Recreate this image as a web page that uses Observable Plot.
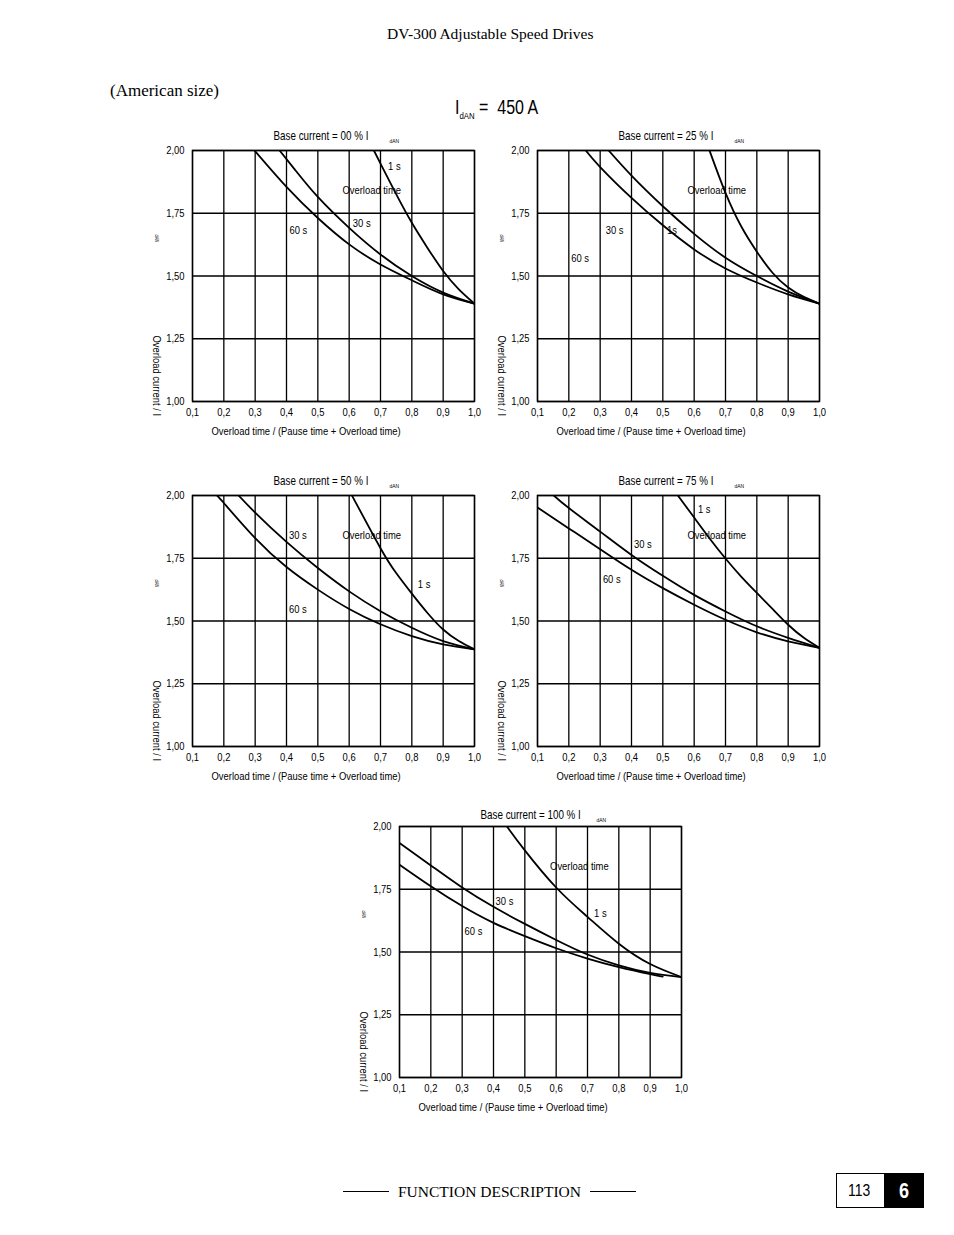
<!DOCTYPE html>
<html>
<head>
<meta charset="utf-8">
<script src="https://cdn.jsdelivr.net/npm/d3@7"></script>
<script src="https://cdn.jsdelivr.net/npm/@observablehq/plot@0.6"></script>
<style>
  body { margin: 0; background: #fff; }
  #page { position: relative; width: 954px; height: 1235px; overflow: hidden; color: #000;
          font-family: "Liberation Serif", "Times New Roman", serif; }
  .abs { position: absolute; white-space: nowrap; line-height: 1; }
  .narrow { font-family: "Liberation Sans", Arial, sans-serif; display: inline-block;
            transform: scaleX(0.82); transform-origin: left center; }
  .chart { position: absolute; }
  .chart svg { overflow: visible; display: block; }
  .rule { position: absolute; height: 0; border-top: 1px solid #000; }
</style>
</head>
<body>
<div id="page">
  <div class="abs" style="left:387px;top:26px;font-size:15.5px;">DV-300 Adjustable Speed Drives</div>
  <div class="abs" style="left:110px;top:82px;font-size:17px;">(American size)</div>
  <div class="abs" style="left:455px;top:98px;"><span class="narrow" style="font-size:19.5px;">I<span style="font-size:9.5px;position:relative;top:5px;">dAN</span>&nbsp;=&nbsp; 450 A</span></div>

  <div id="c00" class="chart" style="left:142px;top:120px;"></div>
  <div id="c25" class="chart" style="left:487px;top:120px;"></div>
  <div id="c50" class="chart" style="left:142px;top:465px;"></div>
  <div id="c75" class="chart" style="left:487px;top:465px;"></div>
  <div id="c100" class="chart" style="left:349px;top:796px;"></div>

  <div class="rule" style="left:343px;top:1191px;width:46px;"></div>
  <div class="abs" style="left:398px;top:1184px;font-size:15.5px;">FUNCTION DESCRIPTION</div>
  <div class="rule" style="left:590px;top:1191px;width:46px;"></div>
  <div class="abs" style="left:836px;top:1173px;width:47px;height:33px;border:1px solid #000;line-height:33px;"><span class="narrow" style="font-size:17px;margin-left:11px;">113</span></div>
  <div class="abs" style="left:884px;top:1173px;width:40px;height:35px;background:#000;color:#fff;line-height:35px;"><span class="narrow" style="font-size:22px;font-weight:bold;margin-left:15px;">6</span></div>
</div>
<script>
// ---- axis ticks and texts ----
const xTicks = [0.1, 0.2, 0.3, 0.4, 0.5, 0.6, 0.7, 0.8, 0.9, 1.0];
const yTicks = [1.00, 1.25, 1.50, 1.75, 2.00];
const baseCurrents = ["00", "25", "50", "75", "100"];
const xLabel = "Overload time / (Pause time + Overload time)";
const yLabel = "Overload current / I";
const subLabel = "dAN";

// ---- Base current = 00 % ----
const b00_60s = [[0.298, 2.0], [0.4, 1.855], [0.5, 1.731], [0.6, 1.626], [0.7, 1.546], [0.8, 1.483], [0.9, 1.427], [1.0, 1.39]];
const b00_30s = [[0.378, 2.0], [0.428, 1.922], [0.5, 1.815], [0.6, 1.692], [0.7, 1.586], [0.8, 1.50], [0.9, 1.434], [1.0, 1.39]];
const b00_1s  = [[0.679, 2.0], [0.7, 1.948], [0.75, 1.826], [0.8, 1.712], [0.85, 1.612], [0.9, 1.52], [0.95, 1.447], [1.0, 1.39]];
const b00_labels = [
  {text: "1 s", x: 0.744, y: 1.936}, {text: "Overload time", x: 0.672, y: 1.843},
  {text: "60 s", x: 0.438, y: 1.681}, {text: "30 s", x: 0.640, y: 1.708}];

// ---- Base current = 25 % ----
const b25_60s = [[0.254, 2.0], [0.3, 1.934], [0.4, 1.811], [0.5, 1.702], [0.6, 1.606], [0.7, 1.53], [0.8, 1.474], [0.9, 1.427], [1.0, 1.39]];
const b25_30s = [[0.327, 2.0], [0.4, 1.90], [0.5, 1.778], [0.6, 1.668], [0.7, 1.573], [0.8, 1.50], [0.9, 1.438], [1.0, 1.39]];
const b25_1s  = [[0.649, 2.0], [0.7, 1.831], [0.75, 1.698], [0.8, 1.597], [0.85, 1.513], [0.9, 1.454], [0.95, 1.417], [1.0, 1.39]];
const b25_labels = [
  {text: "Overload time", x: 0.672, y: 1.843}, {text: "30 s", x: 0.346, y: 1.681},
  {text: "1s", x: 0.529, y: 1.681}, {text: "60 s", x: 0.236, y: 1.571}];

// ---- Base current = 50 % ----
const b50_60s = [[0.178, 2.0], [0.2, 1.97], [0.3, 1.83], [0.4, 1.715], [0.5, 1.625], [0.6, 1.548], [0.7, 1.487], [0.8, 1.44], [0.9, 1.407], [1.0, 1.387]];
const b50_30s = [[0.247, 2.0], [0.3, 1.932], [0.4, 1.815], [0.5, 1.711], [0.6, 1.618], [0.7, 1.539], [0.8, 1.473], [0.9, 1.42], [1.0, 1.387]];
const b50_1s  = [[0.609, 2.0], [0.7, 1.79], [0.75, 1.691], [0.8, 1.609], [0.85, 1.532], [0.9, 1.466], [0.95, 1.42], [1.0, 1.387]];
const b50_labels = [
  {text: "30 s", x: 0.436, y: 1.843}, {text: "Overload time", x: 0.672, y: 1.843},
  {text: "1 s", x: 0.839, y: 1.645}, {text: "60 s", x: 0.436, y: 1.545}];

// ---- Base current = 75 % ----
const b75_60s = [[0.1, 1.952], [0.2, 1.869], [0.3, 1.786], [0.4, 1.704], [0.5, 1.631], [0.6, 1.565], [0.7, 1.505], [0.8, 1.455], [0.9, 1.419], [1.0, 1.393]];
const b75_30s = [[0.152, 2.0], [0.2, 1.95], [0.3, 1.856], [0.4, 1.763], [0.5, 1.68], [0.6, 1.604], [0.7, 1.538], [0.8, 1.479], [0.9, 1.433], [1.0, 1.393]];
const b75_1s  = [[0.548, 2.0], [0.6, 1.912], [0.65, 1.828], [0.7, 1.749], [0.75, 1.677], [0.8, 1.612], [0.85, 1.548], [0.9, 1.485], [0.95, 1.433], [1.0, 1.393]];
const b75_labels = [
  {text: "1 s", x: 0.632, y: 1.944}, {text: "Overload time", x: 0.672, y: 1.843},
  {text: "30 s", x: 0.436, y: 1.806}, {text: "60 s", x: 0.337, y: 1.668}];

// ---- Base current = 100 % ----
const b100_60s = [[0.1, 1.848], [0.2, 1.762], [0.3, 1.683], [0.4, 1.616], [0.5, 1.563], [0.6, 1.515], [0.7, 1.474], [0.8, 1.44], [0.9, 1.412], [0.94, 1.402]];
const b100_30s = [[0.1, 1.934], [0.2, 1.845], [0.3, 1.757], [0.4, 1.68], [0.5, 1.612], [0.6, 1.548], [0.7, 1.49], [0.8, 1.447], [0.9, 1.417], [1.0, 1.40]];
const b100_1s  = [[0.443, 2.0], [0.5, 1.905], [0.6, 1.757], [0.7, 1.64], [0.8, 1.533], [0.9, 1.452], [1.0, 1.40]];
const b100_labels = [
  {text: "Overload time", x: 0.674, y: 1.841}, {text: "30 s", x: 0.435, y: 1.700},
  {text: "1 s", x: 0.741, y: 1.654}, {text: "60 s", x: 0.336, y: 1.581}];

const FONT = "'Liberation Sans', Arial, sans-serif";
const NARROW = 0.82; // emulate a narrow sans face
const comma = (d, n) => d.toFixed(n).replace(".", ",");

function makeChart(base, series, labels, titleDy) {
  const rows = [];
  for (const [name, pts] of series) for (const [x, y] of pts) rows.push({name, x, y});
  const txt = {fill: "#000", lineAnchor: "middle"};
  return Plot.plot({
    width: 352, height: 326,
    marginLeft: 50, marginRight: 20, marginTop: 30, marginBottom: 45,
    x: {domain: [0.1, 1.0]},
    y: {domain: [1.0, 2.0]},
    style: {fontFamily: FONT, fontSize: "11.5px", color: "#000", background: "transparent", overflow: "visible"},
    marks: [
      Plot.gridX(xTicks, {stroke: "#000", strokeOpacity: 1, strokeWidth: 1.3}),
      Plot.gridY(yTicks, {stroke: "#000", strokeOpacity: 1, strokeWidth: 1.3}),
      Plot.frame({stroke: "#000", strokeWidth: 1.4}),
      Plot.axisX(xTicks, {tickSize: 0, tickPadding: 6, tickFormat: d => comma(d, 1), label: null, fontVariant: "normal"}),
      Plot.axisY(yTicks, {tickSize: 0, tickPadding: 8, tickFormat: d => comma(d, 2), label: null, fontVariant: "normal"}),
      Plot.line(rows, {x: "x", y: "y", z: "name", curve: "natural", stroke: "#000", strokeWidth: 1.8, clip: true}),
      Plot.text(labels, {x: "x", y: "y", text: "text", fill: "#000"}),
      Plot.text([`Base current = ${base} % I`], {...txt, frameAnchor: "top-left", textAnchor: "start", dx: 81, dy: titleDy, fontSize: 12}),
      Plot.text([subLabel], {...txt, frameAnchor: "top-left", textAnchor: "start", dx: 197, dy: titleDy + 5, fontSize: 6}),
      Plot.text([xLabel], {...txt, frameAnchor: "bottom-left", textAnchor: "start", dx: 19, dy: 30}),
      Plot.text([yLabel], {...txt, frameAnchor: "top-left", textAnchor: "start", rotate: 90, dx: -36, dy: 185}),
      Plot.text([subLabel], {...txt, frameAnchor: "top-left", rotate: 90, dx: -36, dy: 84, fontSize: 5})
    ]
  });
}

// compress every text along its own direction around its anchor (narrow face look)
function narrowTexts(svg) {
  svg.querySelectorAll("text").forEach(t => {
    const b = t.getBBox();
    if (!b.width) return;
    const anchor = getComputedStyle(t).textAnchor;
    const ax = anchor === "middle" ? b.x + b.width / 2 : anchor === "end" ? b.x + b.width : b.x;
    const prev = t.getAttribute("transform") || "";
    t.setAttribute("transform", `${prev} translate(${ax},0) scale(${NARROW},1) translate(${-ax},0)`.trim());
  });
}

const defs = [
  ["c00", baseCurrents[0], [["60 s", b00_60s], ["30 s", b00_30s], ["1 s", b00_1s]], b00_labels, -14],
  ["c25", baseCurrents[1], [["60 s", b25_60s], ["30 s", b25_30s], ["1 s", b25_1s]], b25_labels, -14],
  ["c50", baseCurrents[2], [["60 s", b50_60s], ["30 s", b50_30s], ["1 s", b50_1s]], b50_labels, -14],
  ["c75", baseCurrents[3], [["60 s", b75_60s], ["30 s", b75_30s], ["1 s", b75_1s]], b75_labels, -14],
  ["c100", baseCurrents[4], [["60 s", b100_60s], ["30 s", b100_30s], ["1 s", b100_1s]], b100_labels, -11]
];
for (const [id, base, series, labels, titleDy] of defs) {
  const svg = makeChart(base, series, labels, titleDy);
  document.getElementById(id).appendChild(svg);
  narrowTexts(svg);
}
</script>
</body>
</html>
